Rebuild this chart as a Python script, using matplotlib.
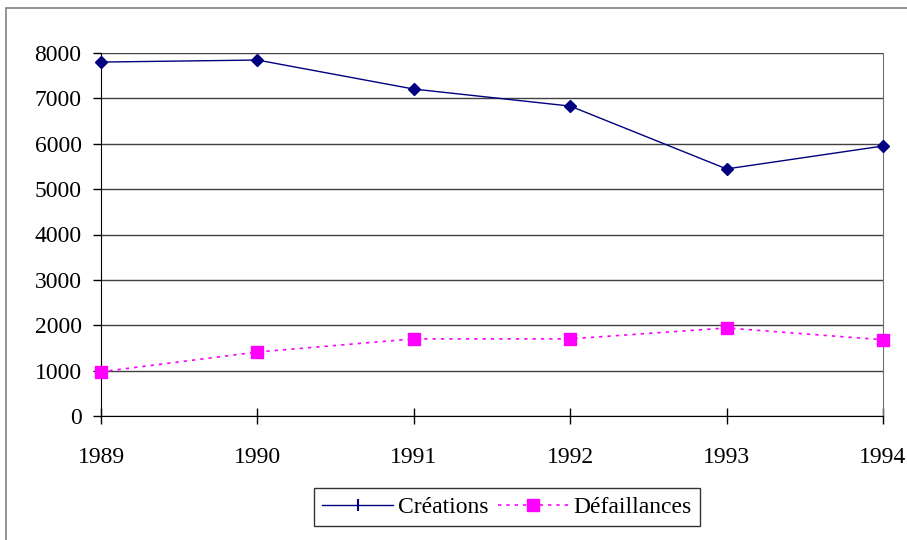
import matplotlib
matplotlib.use("Agg")
import matplotlib.pyplot as plt
from matplotlib.lines import Line2D
from matplotlib.patches import Rectangle

years = [1989, 1990, 1991, 1992, 1993, 1994]
creations = [7800, 7845, 7205, 6830, 5445, 5950]
defaillances = [975, 1410, 1700, 1700, 1940, 1680]
yticks = [0, 1000, 2000, 3000, 4000, 5000, 6000, 7000, 8000]

plt.rcParams['font.family'] = ['Liberation Serif', 'DejaVu Serif']

fig = plt.figure(figsize=(9.07, 5.40), dpi=100)
ax = fig.add_axes([101/907, 1 - 416/540, (883 - 101)/907, (416 - 53)/540])

# outer chart frame (right and bottom edges fall outside the picture)
fig.patches.append(Rectangle((6/907, -0.05), 1.2, 1.05 - 8/540, transform=fig.transFigure,
                             fill=False, edgecolor='#808080', linewidth=1.2))

ax.plot(years, creations, color='#000080', linewidth=1, marker='D', markersize=6,
        markerfacecolor='#000080', markeredgecolor='#000080', clip_on=False, zorder=4)
ax.plot(years, defaillances, color='#FF00FF', linewidth=1.2, linestyle=(0, (2, 3)),
        marker='s', markersize=9, markerfacecolor='#FF00FF', markeredgecolor='#FF00FF',
        clip_on=False, zorder=4)

ax.set_xlim(1989, 1994)
ax.set_ylim(0, 8000)
ax.set_xticks(years)
ax.set_yticks(yticks)
ax.set_yticklabels([str(v) for v in yticks])
ax.yaxis.grid(True, color='#404040', linewidth=1)
ax.set_axisbelow(True)

ax.spines['top'].set_visible(False)
ax.spines['right'].set_color('#707070')
ax.spines['left'].set_color('black')
ax.spines['bottom'].set_color('black')

ax.tick_params(axis='x', direction='inout', length=11, width=1, pad=17, labelsize=17)
ax.tick_params(axis='y', direction='out', length=6, width=1, pad=8, labelsize=17)

handles = [Line2D([], [], color='#000080', linewidth=1, marker='|', markersize=9,
                  markeredgewidth=1.5),
           Line2D([], [], color='#FF00FF', linewidth=1.2, linestyle=(0, (2, 3)),
                  marker='s', markersize=9)]
leg = fig.legend(handles, ['Créations', 'Défaillances'], loc='center',
                 bbox_to_anchor=(507/907, 1 - 507/540), ncol=2, frameon=True,
                 fancybox=False, edgecolor='black', fontsize=17, handlelength=3.0,
                 columnspacing=0.4, handletextpad=0.2, borderpad=0.35)
leg.get_frame().set_linewidth(1)

fig.savefig('out.png', dpi=100)
